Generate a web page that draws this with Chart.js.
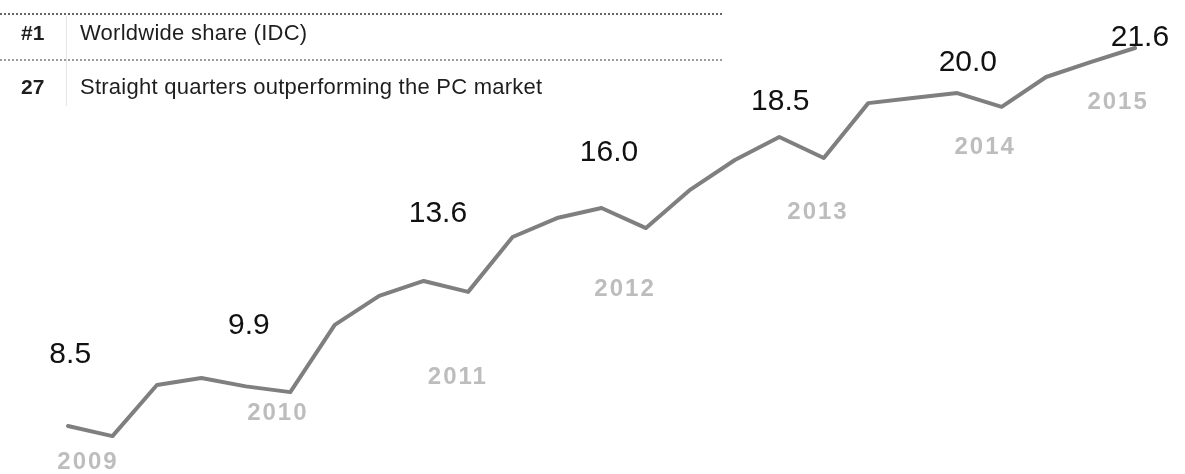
<!DOCTYPE html>
<html>
<head>
<meta charset="utf-8">
<script src="https://cdn.jsdelivr.net/npm/chart.js@4"></script>
<style>
  body { margin: 0; background: #fff; }
  #wrap { position: relative; width: 1185px; height: 474px; }
  #facts { position: absolute; left: 0; top: 0; width: 725px; height: 110px; font-family: "Liberation Sans", Arial, sans-serif; color: #1e1e1e; z-index: 2; }
  .num { position: absolute; left: 21px; font-size: 21px; font-weight: bold; line-height: 24px; }
  .txt { position: absolute; left: 80px; font-size: 22px; line-height: 24px; letter-spacing: 0.25px; }
  .rule { position: absolute; left: 0; width: 722px; height: 0; }
  #vline { position: absolute; left: 66px; top: 16px; height: 90px; border-left: 1px solid #e6e6e6; }
</style>
</head>
<body>
<div id="wrap">
  <div id="facts">
    <div class="rule" style="top:13px;border-top:2px dotted #666"></div>
    <span class="num" style="top:21px">#1</span>
    <span class="txt" style="top:21px">Worldwide share (IDC)</span>
    <div class="rule" style="top:59px;border-top:2px dotted #9a9a9a"></div>
    <span class="num" style="top:75px">27</span>
    <span class="txt" style="top:75px">Straight quarters outperforming the PC market</span>
    <div id="vline"></div>
  </div>
  <canvas id="myChart"></canvas>
</div>
<script>
// quarters Q4 2008 .. Q4 2014
const quarters = ["Q4 08",
  "Q1 09", "Q2 09", "Q3 09", "Q4 09",
  "Q1 10", "Q2 10", "Q3 10", "Q4 10",
  "Q1 11", "Q2 11", "Q3 11", "Q4 11",
  "Q1 12", "Q2 12", "Q3 12", "Q4 12",
  "Q1 13", "Q2 13", "Q3 13", "Q4 13",
  "Q1 14", "Q2 14", "Q3 14", "Q4 14"];
const shareValues = [8.47,
  8.12, 9.9, 10.14, 9.85,
  9.65, 11.99, 13.0, 13.52,
  13.14, 15.05, 15.71, 16.06,
  15.36, 16.7, 17.73, 18.53,
  17.8, 19.71, 19.89, 20.06,
  19.58, 20.62, 21.14, 21.63];

// annual figures and where they sit (quarter index, value)
const annualLabels = ["8.5", "9.9", "13.6", "16.0", "18.5", "20.0", "21.6"];
const annualAtQ = [0.05, 4.07, 8.32, 12.17, 16.02, 20.24, 24.11];
const annualAtV = [10.95, 11.95, 15.85, 18.0, 19.75, 21.12, 22.0];

const yearLabels = ["2009", "2010", "2011", "2012", "2013", "2014", "2015"];
const yearAtQ = [0.45, 4.72, 8.77, 12.53, 16.87, 20.63, 23.62];
const yearAtV = [7.22, 8.92, 10.18, 13.24, 15.89, 18.18, 19.75];

const textPlugin = {
  id: "textPlugin",
  afterDatasetsDraw(chart) {
    const c = chart.ctx;
    const xs = chart.scales.x;
    const ys = chart.scales.y;
    c.save();
    c.textAlign = "center";
    c.textBaseline = "middle";
    c.font = "bold 24px 'Liberation Sans', Arial, sans-serif";
    c.fillStyle = "#bdbdbd";
    c.letterSpacing = "2px";
    for (let i = 0; i < yearLabels.length; i++) {
      c.fillText(yearLabels[i], xs.getPixelForValue(yearAtQ[i]), ys.getPixelForValue(yearAtV[i]));
    }
    c.letterSpacing = "0px";
    c.font = "30px 'Liberation Sans', Arial, sans-serif";
    c.fillStyle = "#111";
    for (let i = 0; i < annualLabels.length; i++) {
      c.fillText(annualLabels[i], xs.getPixelForValue(annualAtQ[i]), ys.getPixelForValue(annualAtV[i]));
    }
    c.restore();
  }
};

const ctx = document.getElementById("myChart").getContext("2d");
const config = {
  type: "line",
  data: {
    labels: quarters,
    datasets: [
      {
        label: "Share",
        data: shareValues,
        borderColor: "#7f7f7f",
        borderWidth: 4,
        pointRadius: 0,
        tension: 0,
        fill: false,
        borderJoinStyle: "round",
        borderCapStyle: "round",
      },
    ],
  },
  options: {
    responsive: true,
    maintainAspectRatio: false,
    animation: false,
    layout: { padding: { left: 68, right: 50, top: 0, bottom: 0 } },
    plugins: { legend: { display: false }, tooltip: { enabled: false } },
    scales: {
      x: { display: false, offset: false },
      y: { display: false, min: 6.8, max: 23.3 },
    },
  },
  plugins: [textPlugin],
};
document.getElementById("myChart").parentNode.style.height = "474px";
const myChart = new Chart(ctx, config);
</script>
</body>
</html>
